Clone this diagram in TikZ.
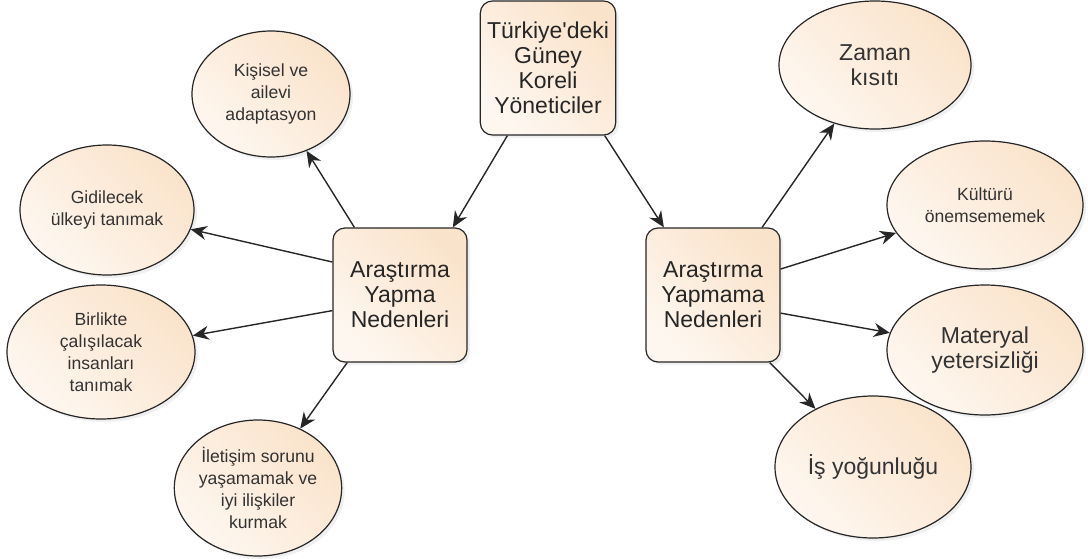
\documentclass[tikz,border=0pt]{standalone}
\usepackage{fontspec}
\setmainfont{Liberation Sans}
\usetikzlibrary{shapes.geometric,arrows.meta,shadows}

\definecolor{seftali}{RGB}{250,227,203}
\definecolor{seftaliacik}{RGB}{254,247,240}

\begin{document}
\begin{tikzpicture}[x=0.5pt,y=-0.5pt,
  golge/.style={drop shadow={opacity=0.12,shadow xshift=1.5pt,shadow yshift=-1.5pt}},
  kutu/.style={draw=black!85, line width=0.6pt, rounded corners=6pt,
    left color=seftali, right color=seftaliacik, shading angle=-45, golge,
    minimum width=67pt, minimum height=67pt, align=center,
    font=\fontsize{11.5}{12.5}\selectfont, text=black!85},
  balon/.style={ellipse, draw=black!85, line width=0.6pt, inner sep=0pt,
    left color=seftali, right color=seftaliacik, shading angle=-45, golge,
    align=center, font=\fontsize{8.8}{11}\selectfont, text=black!80},
  buyuk/.style={font=\fontsize{11.5}{12.5}\selectfont},
  ok/.style={-{Stealth[length=8pt,width=7pt]}, line width=0.7pt, draw=black!85}
]
\useasboundingbox (0,0) rectangle (1088,558);

% ===== Kutular =====
\node[kutu] (yonetici) at (548,68) {Türkiye\textquotesingle deki\\Güney\\Koreli\\Yöneticiler};
\node[kutu] (yapma) at (400,295) {Araştırma\\Yapma\\Nedenleri};
\node[kutu] (yapmama) at (713,295) {Araştırma\\Yapmama\\Nedenleri};

% ===== Sol balonlar =====
\node[balon, minimum width=79pt, minimum height=63pt] (kisisel) at (271,94) {Kişisel ve\\ailevi\\adaptasyon};
\node[balon, minimum width=87pt, minimum height=65pt] (gidilecek) at (107,210) {Gidilecek\\ülkeyi tanımak};
\node[balon, minimum width=94pt, minimum height=67pt] (birlikte) at (101,352) {Birlikte\\çalışılacak\\insanları\\tanımak};
\node[balon, minimum width=83pt, minimum height=68pt] (iletisim) at (258,488) {İletişim sorunu\\yaşamamak ve\\iyi ilişkiler\\kurmak};

% ===== Sag balonlar =====
\node[balon, buyuk, minimum width=96pt, minimum height=64pt] (zaman) at (875,65) {Zaman\\kısıtı};
\node[balon, minimum width=98pt, minimum height=64pt] (kultur) at (985,205) {Kültürü\\önemsememek};
\node[balon, buyuk, minimum width=98pt, minimum height=65pt] (materyal) at (985,350) {Materyal\\yetersizliği};
\node[balon, buyuk, minimum width=98pt, minimum height=71pt] (isyogun) at (873,467) {İş yoğunluğu};

% ===== Oklar =====
\draw[ok] (yonetici.239) -- (yapma.52);
\draw[ok] (yonetici.310) -- (yapmama.126);

\draw[ok] (yapma.124) -- (kisisel);
\draw[ok] (yapma.154) -- (gidilecek);
\draw[ok] (yapma.193) -- (birlikte);
\draw[ok] (yapma.232) -- (iletisim);

\draw[ok] (yapmama.54) -- (zaman);
\draw[ok] (yapmama.21) -- (kultur);
\draw[ok] (yapmama.345) -- (materyal);
\draw[ok] (yapmama.310) -- (isyogun);

\end{tikzpicture}
\end{document}
